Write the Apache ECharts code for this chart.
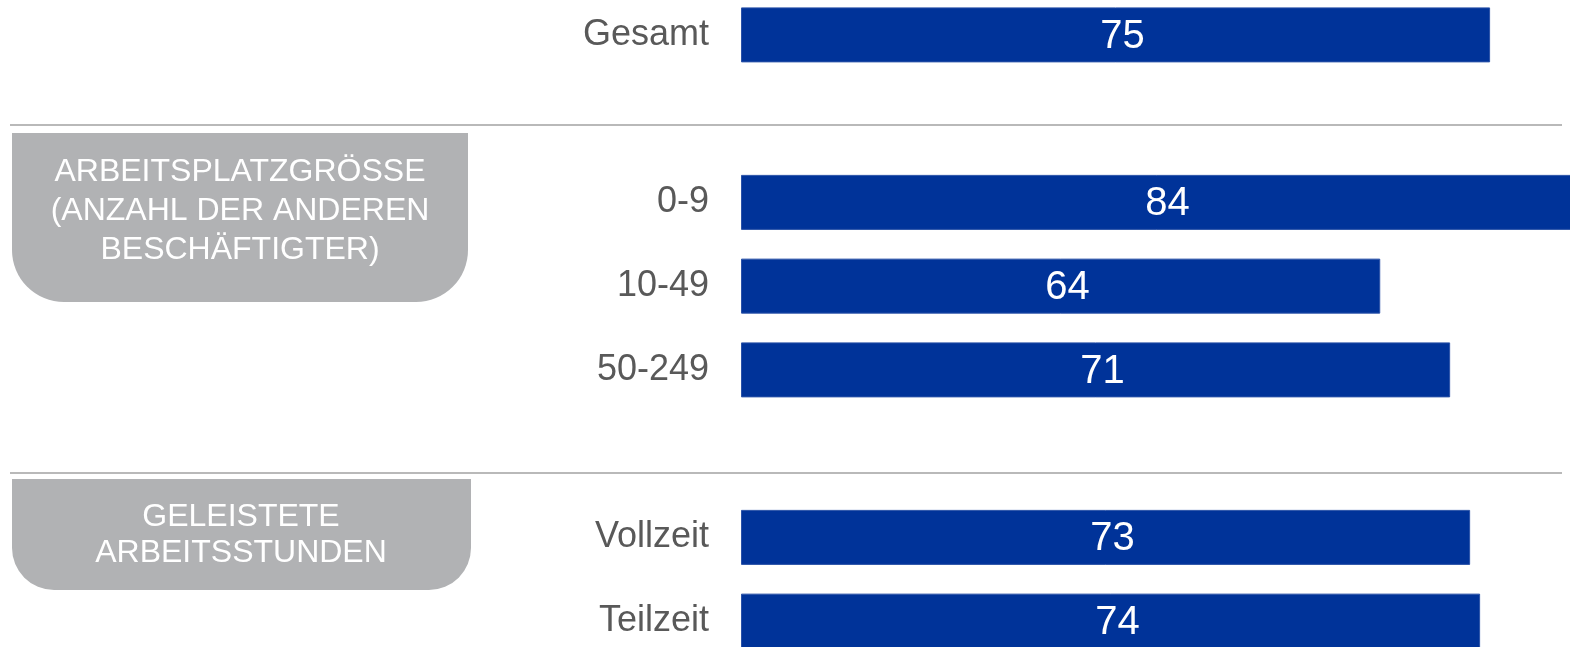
<!DOCTYPE html>
<html>
<head>
<meta charset="utf-8">
<script src="https://cdn.jsdelivr.net/npm/echarts@6/dist/echarts.min.js"></script>
<style>
  html, body { margin: 0; padding: 0; background: #ffffff; }
  #chart { width: 1570px; height: 647px; }
</style>
</head>
<body>
<div id="chart"></div>
<script>
// Kategorien (leere Einträge = Abstand zwischen den Gruppen)
var categories = ['Gesamt', '', '0-9', '10-49', '50-249', '', 'Vollzeit', 'Teilzeit']
var values = [75, null, 84, 64, 71, null, 73, 74]
var groupTitles = ['ARBEITSPLATZGRÖSSE\n(ANZAHL DER ANDEREN\nBESCHÄFTIGTER)', 'GELEISTETE\nARBEITSSTUNDEN']

var myChart = echarts.init(document.getElementById('chart'))

var boxStyle = { fill: '#b1b2b4' }
var lineStyle = { stroke: '#b9b9b9', lineWidth: 2 }

var option = {
  animation: false,
  grid: {
    left: 741,
    top: -7,
    width: 840,
    height: 670,
    outerBoundsMode: 'none',
    containLabel: false
  },
  xAxis: {
    type: 'value',
    min: 0,
    max: 84.1,
    show: false
  },
  yAxis: {
    type: 'category',
    data: categories,
    inverse: true,
    axisLine: { show: false },
    axisTick: { show: false },
    axisLabel: {
      margin: 32,
      color: '#595959',
      fontFamily: 'Liberation Sans, Arial, sans-serif',
      fontSize: 36
    }
  },
  series: [
    {
      type: 'bar',
      data: values,
      barWidth: 55,
      itemStyle: {
        color: '#003399',
        borderColor: '#2a52a8',
        borderWidth: 1
      },
      label: {
        show: true,
        position: 'inside',
        offset: [7, 2],
        color: '#ffffff',
        fontFamily: 'Liberation Sans, Arial, sans-serif',
        fontSize: 40
      }
    }
  ],
  graphic: [
    // Trennlinien
    { type: 'line', shape: { x1: 10, y1: 125, x2: 1562, y2: 125 }, style: lineStyle },
    { type: 'line', shape: { x1: 10, y1: 473, x2: 1562, y2: 473 }, style: lineStyle },
    // Gruppenkästen
    {
      type: 'rect',
      shape: { x: 12, y: 133, width: 456, height: 169, r: [0, 0, 52, 52] },
      style: boxStyle
    },
    {
      type: 'text',
      x: 240, y: 211,
      style: {
        text: groupTitles[0],
        fill: '#ffffff',
        font: '32px "Liberation Sans", Arial, sans-serif',
        align: 'center',
        verticalAlign: 'middle',
        lineHeight: 39
      }
    },
    {
      type: 'rect',
      shape: { x: 12, y: 479, width: 459, height: 111, r: [0, 0, 42, 42] },
      style: boxStyle
    },
    {
      type: 'text',
      x: 241, y: 535,
      style: {
        text: groupTitles[1],
        fill: '#ffffff',
        font: '32px "Liberation Sans", Arial, sans-serif',
        align: 'center',
        verticalAlign: 'middle',
        lineHeight: 36
      }
    }
  ]
}

myChart.setOption(option)
</script>
</body>
</html>
